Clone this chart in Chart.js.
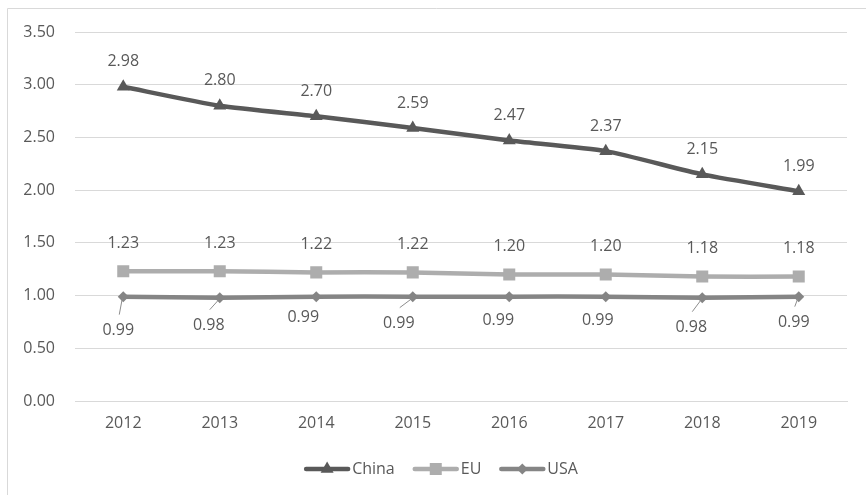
<!DOCTYPE html>
<html>
<head>
<meta charset="utf-8">
<script src="https://cdn.jsdelivr.net/npm/chart.js@4.4.1/dist/chart.umd.min.js"></script>
<style>
  html, body { margin: 0; padding: 0; background: #ffffff; }
  #wrap { position: relative; width: 866px; height: 495px; }
  canvas { display: block; }
</style>
</head>
<body>
<div id="wrap"><canvas id="chart" width="866" height="495"></canvas></div>
<script>
// Years on the category axis
const years = ['2012', '2013', '2014', '2015', '2016', '2017', '2018', '2019'];

// Series values
const china = [2.98, 2.80, 2.70, 2.59, 2.47, 2.37, 2.15, 1.99];
const eu    = [1.23, 1.23, 1.22, 1.22, 1.20, 1.20, 1.18, 1.18];
const usa   = [0.99, 0.98, 0.99, 0.99, 0.99, 0.99, 0.98, 0.99];

// Value axis ticks
const yTicks = [0, 0.5, 1.0, 1.5, 2.0, 2.5, 3.0, 3.5];

const FONT = '"Open Sans", "Liberation Sans", sans-serif';
const TEXT = '#595959';
const GRID = '#d9d9d9';

// Label placement for each series: [dx, dy] from the point, and whether a leader line is drawn
const labelPlacement = {
  China: { offsets: china.map(() => [0, -25]), leaders: china.map(() => false) },
  EU:    { offsets: eu.map(() => [0, -28]),    leaders: eu.map(() => false) },
  USA:   {
    offsets: [[-5, 34], [-11, 28], [-13, 21], [-14, 27], [-11, 24], [-8, 24], [-11, 30], [-5, 26]],
    leaders: [true, true, false, true, false, false, true, true]
  }
};

// Data labels with optional leader lines
const valueLabels = {
  id: 'valueLabels',
  afterDatasetsDraw(chart) {
    const ctx = chart.ctx;
    ctx.save();
    ctx.font = '16px ' + FONT;
    ctx.textAlign = 'center';
    ctx.textBaseline = 'middle';
    chart.data.datasets.forEach((ds, di) => {
      const meta = chart.getDatasetMeta(di);
      const place = labelPlacement[ds.label];
      meta.data.forEach((pt, i) => {
        const [dx, dy] = place.offsets[i];
        const lx = pt.x + dx, ly = pt.y + dy;
        if (place.leaders[i]) {
          ctx.strokeStyle = '#8c8c8c';
          ctx.lineWidth = 1;
          ctx.beginPath();
          ctx.moveTo(lx + 1, ly - 16);
          ctx.lineTo(pt.x - 1, pt.y + 2);
          ctx.stroke();
        }
        ctx.fillStyle = TEXT;
        ctx.fillText(ds.data[i].toFixed(2), lx, ly);
      });
    });
    ctx.restore();
  }
};

// Legend: line sample with the series marker, then the name
const lineLegend = {
  id: 'lineLegend',
  afterDraw(chart) {
    const ctx = chart.ctx;
    const sample = 46, gapText = 2, gapItem = 18;
    ctx.save();
    ctx.font = '16px ' + FONT;
    ctx.textBaseline = 'middle';
    const items = chart.data.datasets.map(ds => ({ ds, w: sample + gapText + ctx.measureText(ds.label).width }));
    const total = items.reduce((s, it) => s + it.w, 0) + gapItem * (items.length - 1);
    let x = (chart.chartArea.left + chart.chartArea.right) / 2 - 20 - total / 2;
    const y = 469;
    items.forEach(it => {
      const ds = it.ds;
      ctx.strokeStyle = ds.borderColor;
      ctx.lineWidth = ds.borderWidth;
      ctx.lineCap = 'round';
      ctx.beginPath();
      ctx.moveTo(x + 2, y);
      ctx.lineTo(x + sample - 2, y);
      ctx.stroke();
      ctx.fillStyle = ds.pointBackgroundColor;
      ctx.strokeStyle = ds.pointBorderColor;
      Chart.helpers.drawPoint(ctx, {
        pointStyle: ds.pointStyle,
        radius: ds.pointRadius,
        borderWidth: 0,
        rotation: 0
      }, x + sample / 2, y);
      ctx.fillStyle = TEXT;
      ctx.fillText(ds.label, x + sample + gapText, y);
      x += it.w + gapItem;
    });
    ctx.restore();
  }
};

// Partial frame around the chart
const frame = {
  id: 'frame',
  beforeDraw(chart) {
    const ctx = chart.ctx;
    ctx.save();
    ctx.strokeStyle = '#d9d9d9';
    ctx.lineWidth = 1;
    ctx.beginPath();
    ctx.moveTo(7.5, 495);
    ctx.lineTo(7.5, 8.5);
    ctx.lineTo(866, 8.5);
    ctx.stroke();
    ctx.restore();
  }
};

function series(label, data, color, style, radius) {
  return {
    label, data,
    borderColor: color,
    backgroundColor: color,
    pointBackgroundColor: color,
    pointBorderColor: color,
    borderWidth: 4.5,
    pointStyle: style,
    pointRadius: radius,
    pointHoverRadius: radius,
    pointBorderWidth: 0,
    tension: 0.2,
    cubicInterpolationMode: 'default'
  };
}

new Chart(document.getElementById('chart'), {
  type: 'line',
  data: {
    labels: years,
    datasets: [
      series('China', china, '#595959', 'triangle', 7.5),
      series('EU', eu, '#adadad', 'rect', 8.5),
      series('USA', usa, '#858585', 'rectRot', 5.5)
    ]
  },
  options: {
    responsive: false,
    animation: false,
    devicePixelRatio: 1,
    layout: { padding: { left: 0, right: 19, top: 32, bottom: 0 } },
    plugins: {
      legend: { display: false },
      tooltip: { enabled: false }
    },
    scales: {
      x: {
        offset: true,
        grid: { display: false, drawTicks: false },
        border: { display: true, color: GRID, width: 1 },
        ticks: { color: TEXT, font: { family: FONT, size: 16 }, padding: 13, maxRotation: 0 },
        afterFit(scale) { scale.height = 94; }
      },
      y: {
        min: 0,
        max: 3.5,
        afterBuildTicks(scale) { scale.ticks = yTicks.map(v => ({ value: v })); },
        grid: { color: GRID, lineWidth: 1, drawTicks: false },
        border: { display: false },
        ticks: {
          color: TEXT,
          font: { family: FONT, size: 16 },
          padding: 20,
          callback: v => Number(v).toFixed(2)
        },
        afterFit(scale) { scale.width = 75; }
      }
    }
  },
  plugins: [frame, valueLabels, lineLegend]
});
</script>
</body>
</html>
